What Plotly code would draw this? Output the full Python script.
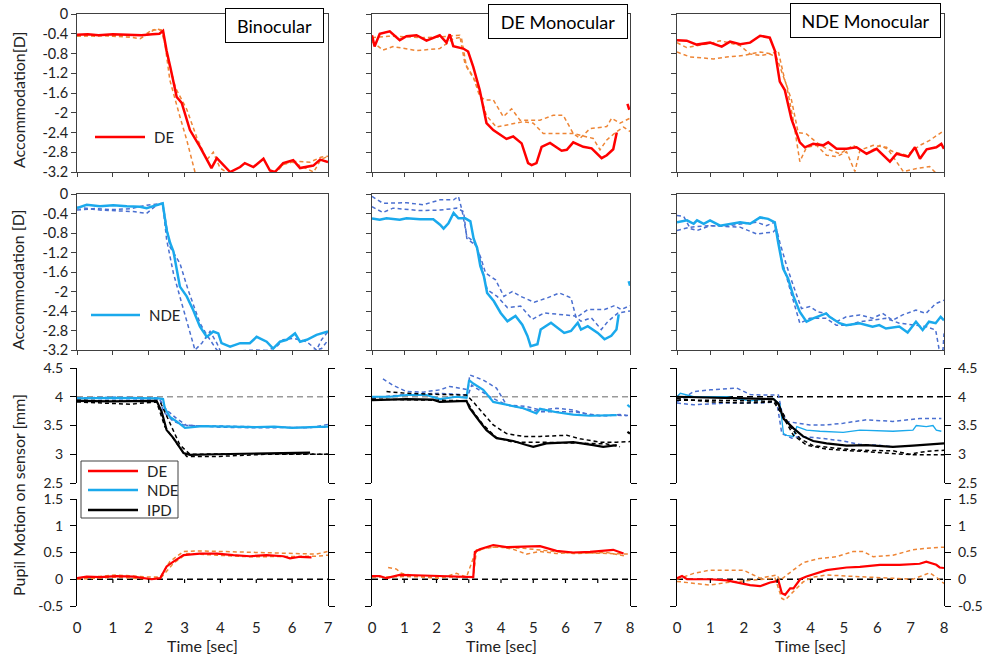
import plotly.graph_objects as go

W, H = 988, 661

# ---------------------------------------------------------------- ticks / labels
TIME_TICKS_BIN = [0, 1, 2, 3, 4, 5, 6, 7]
TIME_TICKS_MONO = [0, 1, 2, 3, 4, 5, 6, 7, 8]
ACC_TICKS = [0, -0.4, -0.8, -1.2, -1.6, -2, -2.4, -2.8, -3.2]
PUPIL_TICKS = [2.5, 3, 3.5, 4, 4.5]
DIFF_TICKS = [-0.5, 0, 0.5, 1, 1.5]
PANEL_TITLES = ["Binocular", "DE Monocular", "NDE Monocular"]
PUPIL_REF = 4.0
DIFF_REF = 0.0

# ---------------------------------------------------------------- accommodation, DE (t [s], D)
ACC_DE_BIN = [(0, -0.42), (0.3, -0.41), (0.6, -0.43), (1.0, -0.41), (1.4, -0.42), (1.8, -0.43), (2.1, -0.41),
              (2.3, -0.4), (2.4, -0.34), (2.5, -0.75), (2.6, -1.07), (2.78, -1.68), (2.92, -1.8), (3.15, -2.35),
              (3.43, -2.69), (3.62, -2.96), (3.75, -3.12), (3.9, -2.92), (4.03, -3.02), (4.27, -3.2), (4.55, -3.1),
              (4.68, -3.02), (4.92, -3.1), (5.2, -2.93), (5.38, -3.17), (5.52, -3.2), (5.75, -3.02), (6.03, -2.96),
              (6.22, -3.12), (6.59, -3.07), (6.78, -2.95), (7.0, -3.0)]
ACC_DE_BIN_R1 = [(0, -0.45), (0.5, -0.42), (1.0, -0.45), (1.5, -0.47), (1.76, -0.5), (2.0, -0.4), (2.2, -0.3),
                 (2.4, -0.33), (2.59, -1.34), (2.87, -2.08), (3.06, -2.55), (3.29, -3.2), (3.5, -3.3), (5.5, -3.25),
                 (5.75, -3.05), (6.0, -3.0), (6.3, -3.1), (6.6, -3.2), (6.8, -2.95), (7.0, -2.88)]
ACC_DE_BIN_R2 = [(0, -0.44), (0.5, -0.45), (1.0, -0.43), (1.5, -0.44), (1.9, -0.42), (2.1, -0.32), (2.35, -0.33),
                 (2.45, -0.6), (2.6, -1.1), (2.75, -1.5), (3.06, -1.93), (3.34, -2.5), (3.62, -2.95), (3.8, -2.8),
                 (3.99, -3.12), (4.27, -3.25), (5.0, -3.3), (5.5, -3.2), (5.75, -3.05), (6.0, -2.98), (6.5, -3.0),
                 (6.8, -2.9), (7.0, -2.88)]

ACC_DE_DEM = [(0, -0.43), (0.08, -0.66), (0.24, -0.4), (0.55, -0.35), (0.86, -0.53), (1.07, -0.45), (1.38, -0.43),
              (1.69, -0.54), (2.1, -0.43), (2.31, -0.58), (2.41, -0.41), (2.52, -0.65), (2.83, -0.7), (2.98, -0.76),
              (3.14, -1.07), (3.34, -1.54), (3.55, -2.21), (3.76, -2.35), (4.17, -2.53), (4.38, -2.48), (4.64, -2.62),
              (4.84, -3.02), (4.95, -3.06), (5.1, -3.02), (5.26, -2.69), (5.52, -2.61), (5.88, -2.77), (6.04, -2.75),
              (6.24, -2.6), (6.55, -2.69), (6.81, -2.72), (7.12, -2.92), (7.28, -2.86), (7.48, -2.74), (7.59, -2.4),
              (None, None), (7.92, -1.82), (7.98, -1.94)]
ACC_DE_DEM_R1 = [(0, -0.48), (0.5, -0.45), (1.0, -0.46), (1.5, -0.48), (2.0, -0.47), (2.5, -0.45), (2.72, -0.43),
                 (2.88, -1.0), (3.14, -1.27), (3.34, -1.67), (3.5, -1.74), (3.76, -1.74), (4.07, -2.08), (4.33, -1.92),
                 (4.59, -2.15), (5.21, -2.15), (5.62, -2.05), (5.93, -2.05), (6.24, -2.42), (6.45, -2.52),
                 (6.76, -2.32), (7.28, -2.28), (7.43, -2.11), (7.69, -2.21), (8.0, -2.11)]
ACC_DE_DEM_R2 = [(0, -0.56), (0.34, -0.73), (0.65, -0.66), (1.38, -0.74), (2.1, -0.7), (2.52, -0.5), (2.77, -0.47),
                 (2.93, -1.07), (3.24, -1.4), (3.55, -2.06), (3.86, -2.29), (4.17, -2.25), (4.69, -2.18), (5.0, -2.21),
                 (5.31, -2.42), (5.72, -2.42), (6.24, -2.42), (6.86, -2.52), (7.07, -2.75), (7.28, -2.55),
                 (7.59, -2.38), (7.8, -2.29), (8.0, -2.38)]

ACC_DE_NDEM = [(0, -0.53), (0.29, -0.54), (0.59, -0.62), (0.99, -0.58), (1.34, -0.66), (1.59, -0.56), (1.89, -0.61),
               (2.19, -0.58), (2.49, -0.44), (2.78, -0.48), (2.93, -0.74), (3.08, -1.37), (3.23, -1.54), (3.43, -2.13),
               (3.68, -2.6), (3.83, -2.7), (4.08, -2.63), (4.38, -2.66), (4.53, -2.6), (4.78, -2.73), (5.08, -2.73),
               (5.38, -2.7), (5.68, -2.83), (5.98, -2.73), (6.38, -2.99), (6.58, -2.83), (6.93, -2.89), (7.13, -2.7),
               (7.28, -2.93), (7.48, -2.74), (7.77, -2.7), (7.92, -2.63), (8.0, -2.73)]
ACC_DE_NDEM_R1 = [(0, -0.58), (0.29, -0.68), (1.09, -0.58), (1.29, -0.54), (1.89, -0.64), (2.19, -0.81), (2.49, -0.84),
                  (2.78, -0.81), (2.98, -0.87), (3.13, -1.17), (3.28, -1.44), (3.48, -2.13), (3.68, -2.99),
                  (3.88, -2.7), (4.18, -2.66), (4.48, -2.86), (4.78, -2.89), (5.08, -2.79), (5.33, -3.19),
                  (5.48, -2.76), (5.88, -2.66), (6.28, -2.7), (6.78, -3.19), (7.18, -3.13), (7.57, -3.09),
                  (7.77, -3.23), (8.0, -3.3)]
ACC_DE_NDEM_R2 = [(0, -0.77), (0.39, -0.87), (0.79, -0.89), (1.09, -0.91), (1.49, -0.87), (1.99, -0.84), (2.49, -0.77),
                  (2.83, -0.81), (3.03, -0.74), (3.23, -1.34), (3.43, -1.74), (3.63, -2.4), (3.88, -2.43),
                  (4.18, -2.6), (4.48, -2.73), (4.88, -2.83), (5.28, -2.66), (5.68, -2.83), (6.08, -2.66),
                  (6.48, -2.79), (6.88, -2.86), (7.28, -2.66), (7.57, -2.56), (7.77, -2.46), (8.0, -2.36)]

# ---------------------------------------------------------------- accommodation, NDE (t [s], D)
ACC_NDE_BIN = [(0, -0.29), (0.27, -0.22), (0.64, -0.25), (1.01, -0.23), (1.39, -0.25), (1.76, -0.26), (1.94, -0.29),
               (2.13, -0.25), (2.39, -0.19), (2.5, -0.74), (2.6, -1.01), (2.69, -1.18), (2.87, -1.9), (3.06, -2.1),
               (3.24, -2.38), (3.43, -2.72), (3.62, -2.93), (3.8, -2.82), (3.94, -2.86), (4.03, -3.06), (4.27, -3.13),
               (4.55, -3.06), (4.82, -3.06), (5.01, -2.93), (5.29, -3.03), (5.47, -3.17), (5.66, -3.03),
               (5.85, -2.99), (6.08, -2.86), (6.22, -3.03), (6.41, -2.99), (6.68, -2.89), (7.0, -2.82)]
ACC_NDE_BIN_R1 = [(0, -0.33), (0.5, -0.3), (1.0, -0.32), (1.5, -0.3), (1.94, -0.23), (2.39, -0.19), (2.5, -0.94),
                  (2.69, -1.63), (2.92, -2.24), (3.1, -2.72), (3.29, -3.2), (3.48, -3.06), (3.71, -2.82),
                  (3.9, -3.06), (4.03, -3.27), (5.0, -3.3), (5.57, -3.13), (5.75, -2.99), (6.03, -2.96),
                  (6.41, -3.03), (6.68, -3.2), (6.82, -2.99), (7.0, -2.82)]
ACC_NDE_BIN_R2 = [(0, -0.27), (0.64, -0.33), (1.57, -0.36), (1.94, -0.4), (2.22, -0.23), (2.39, -0.19), (2.59, -1.08),
                  (2.87, -1.42), (3.1, -1.97), (3.43, -2.65), (3.62, -2.89), (3.9, -3.2), (4.18, -3.23), (5.0, -3.2),
                  (5.75, -3.23), (6.5, -3.23), (6.82, -3.17), (7.0, -3.0)]

ACC_NDE_DEM = [(0, -0.5), (0.24, -0.53), (0.45, -0.5), (0.86, -0.53), (1.07, -0.5), (1.49, -0.52), (1.9, -0.52),
               (2.11, -0.63), (2.22, -0.71), (2.37, -0.6), (2.53, -0.39), (2.68, -0.5), (2.89, -0.5), (3.05, -0.56),
               (3.15, -0.91), (3.26, -1.11), (3.36, -1.48), (3.47, -1.69), (3.57, -2.03), (3.78, -2.2), (3.99, -2.44),
               (4.2, -2.61), (4.45, -2.5), (4.66, -2.68), (4.82, -2.91), (4.92, -3.12), (5.13, -3.08), (5.23, -2.78),
               (5.55, -2.64), (5.96, -2.85), (6.17, -2.81), (6.38, -2.64), (6.48, -2.78), (6.69, -2.71), (7.0, -2.85),
               (7.21, -2.98), (7.42, -2.91), (7.58, -2.78), (7.65, -2.47), (None, None), (7.96, -1.79), (8.0, -1.88)]
ACC_NDE_DEM_R1 = [(0, -0.05), (0.34, -0.19), (1.07, -0.18), (1.59, -0.22), (2.11, -0.12), (2.53, -0.12), (2.68, -0.05),
                  (2.79, -0.33), (2.94, -0.87), (3.15, -0.97), (3.36, -1.28), (3.52, -1.62), (3.83, -1.76),
                  (4.09, -2.1), (4.35, -2.0), (4.61, -2.1), (5.03, -2.22), (5.44, -2.13), (5.81, -2.03),
                  (6.17, -2.13), (6.33, -2.54), (6.69, -2.37), (7.21, -2.37), (7.52, -2.29), (7.73, -2.37),
                  (8.0, -2.29)]
ACC_NDE_DEM_R2 = [(0, -0.26), (0.34, -0.38), (0.65, -0.29), (1.49, -0.34), (2.11, -0.33), (2.63, -0.29), (2.84, -0.36),
                  (2.94, -0.91), (3.26, -1.08), (3.57, -1.96), (3.88, -2.1), (4.2, -2.33), (4.61, -2.3), (4.97, -2.57),
                  (5.34, -2.44), (5.75, -2.47), (6.28, -2.5), (6.48, -2.61), (6.8, -2.54), (7.11, -2.78),
                  (7.32, -2.61), (7.63, -2.44), (8.0, -2.4)]

ACC_NDE_NDEM = [(0, -0.58), (0.3, -0.54), (0.5, -0.61), (0.6, -0.54), (0.8, -0.61), (0.99, -0.54), (1.29, -0.65),
                (1.59, -0.61), (1.89, -0.58), (2.19, -0.61), (2.49, -0.48), (2.73, -0.51), (2.93, -0.58), (3.03, -0.99),
                (3.18, -1.53), (3.33, -1.74), (3.48, -2.08), (3.68, -2.42), (3.88, -2.62), (4.08, -2.55), (4.47, -2.45),
                (4.57, -2.52), (4.87, -2.65), (5.07, -2.69), (5.47, -2.65), (5.86, -2.72), (6.06, -2.69),
                (6.26, -2.76), (6.66, -2.72), (6.91, -2.84), (7.16, -2.62), (7.36, -2.79), (7.55, -2.62),
                (7.75, -2.65), (7.9, -2.52), (8.0, -2.59)]
ACC_NDE_NDEM_R1 = [(0, -0.44), (0.2, -0.46), (0.4, -0.71), (0.6, -0.75), (0.99, -0.65), (1.49, -0.65), (1.99, -0.61),
                   (2.39, -0.58), (2.68, -0.65), (2.93, -0.58), (3.08, -0.99), (3.28, -1.46), (3.48, -1.87),
                   (3.73, -2.35), (3.98, -2.31), (4.22, -2.42), (4.47, -2.45), (4.77, -2.62), (5.07, -2.52),
                   (5.47, -2.48), (5.86, -2.55), (6.16, -2.45), (6.46, -2.59), (6.76, -2.48), (7.16, -2.38),
                   (7.46, -2.45), (7.75, -2.25), (8.0, -2.18)]
ACC_NDE_NDEM_R2 = [(0, -0.75), (0.4, -0.68), (0.99, -0.65), (1.89, -0.68), (2.39, -0.82), (2.88, -0.78), (2.98, -0.71),
                   (3.13, -1.33), (3.38, -1.94), (3.68, -2.65), (3.98, -2.55), (4.47, -2.55), (4.77, -2.69),
                   (5.17, -2.69), (5.47, -2.62), (5.86, -2.59), (6.26, -2.55), (6.66, -2.65), (7.06, -2.69),
                   (7.46, -2.72), (7.75, -2.79), (7.85, -3.17), (7.97, -3.2), (8.0, -2.86)]

# ---------------------------------------------------------------- pupil position on sensor (t [s], mm)
PUP_NDE_BIN = [(0, 3.97), (1.0, 3.98), (2.27, 3.97), (2.4, 3.96), (2.45, 3.8), (2.59, 3.65), (2.78, 3.57),
               (3.01, 3.46), (3.5, 3.49), (4.36, 3.48), (5.0, 3.47), (5.5, 3.48), (6.0, 3.46), (6.5, 3.47), (7.0, 3.48)]
PUP_NDE_BIN_R1 = [(0, 3.98), (1.0, 3.99), (2.27, 3.98), (2.5, 3.77), (2.78, 3.62), (3.06, 3.5), (4.0, 3.49),
                  (5.0, 3.48), (6.0, 3.47), (6.5, 3.46), (7.0, 3.52)]
PUP_NDE_BIN_R2 = [(0, 3.97), (2.32, 3.96), (2.41, 3.74), (2.69, 3.57), (2.97, 3.51), (4.0, 3.47), (5.0, 3.46),
                  (6.0, 3.47), (7.0, 3.47)]
PUP_IPD_BIN = [(0, 3.93), (0.92, 3.92), (2.22, 3.93), (2.36, 3.74), (2.5, 3.42), (2.69, 3.28), (2.97, 3.02),
               (3.15, 2.99), (3.89, 3.0), (5.29, 3.02), (6.5, 3.03)]
PUP_IPD_BIN_R1 = [(0, 3.91), (1.48, 3.87), (2.22, 3.91), (2.45, 3.48), (2.78, 3.19), (3.06, 2.96), (3.89, 2.96),
                  (5.29, 3.0), (7.0, 3.0)]
PUP_IPD_BIN_R2 = [(0, 3.94), (2.32, 3.91), (2.55, 3.6), (2.87, 3.16), (3.15, 3.0), (5.0, 3.01), (7.0, 3.0)]

PUP_NDE_DEM = [(0, 4.0), (0.55, 4.0), (1.07, 4.03), (1.69, 4.03), (2.1, 3.96), (2.62, 4.0), (2.93, 3.98), (3.01, 4.29),
               (3.14, 4.23), (3.45, 4.12), (3.76, 3.91), (4.17, 3.86), (4.69, 3.8), (5.1, 3.71), (5.21, 3.79),
               (5.72, 3.73), (6.24, 3.69), (6.76, 3.67), (7.28, 3.67), (7.59, 3.68), (None, None), (7.92, 3.86),
               (8.0, 3.82)]
PUP_NDE_DEM_R1 = [(0.34, 4.31), (0.65, 4.2), (1.07, 4.09), (1.58, 4.08), (2.1, 4.12), (2.41, 4.18), (2.98, 4.12),
                  (3.03, 4.38), (3.45, 4.29), (3.86, 4.15), (4.17, 3.86), (4.79, 3.83), (5.21, 3.77), (5.72, 3.8),
                  (6.24, 3.77), (6.76, 3.68), (7.28, 3.67), (7.69, 3.69), (8.0, 3.67)]
PUP_NDE_DEM_R2 = [(0, 3.98), (1.07, 4.04), (2.1, 4.06), (2.98, 4.03), (3.09, 4.2), (3.65, 4.0), (4.17, 3.86),
                  (5.21, 3.74), (6.24, 3.74), (7.07, 3.67), (7.59, 3.68), (7.9, 3.67)]
PUP_IPD_DEM = [(0, 3.94), (1.07, 3.96), (1.89, 3.95), (2.1, 3.91), (2.93, 3.93), (3.03, 3.8), (3.34, 3.57),
               (3.55, 3.42), (3.86, 3.28), (4.38, 3.23), (4.79, 3.16), (5.0, 3.13), (5.41, 3.19), (6.24, 3.21),
               (6.86, 3.16), (7.17, 3.13), (7.59, 3.16), (None, None), (7.92, 3.39), (8.0, 3.36)]
PUP_IPD_DEM_R1 = [(0.45, 4.09), (1.07, 4.06), (2.1, 4.04), (2.93, 4.03), (3.14, 3.91), (3.45, 3.71), (3.76, 3.51),
                  (4.17, 3.36), (4.69, 3.31), (5.21, 3.31), (6.04, 3.33), (6.45, 3.27), (7.07, 3.21), (7.59, 3.21),
                  (8.0, 3.22)]
PUP_IPD_DEM_R2 = [(0, 3.96), (2.93, 3.93), (3.14, 3.74), (3.45, 3.51), (3.86, 3.29), (4.38, 3.21), (5.21, 3.21),
                  (6.24, 3.19), (7.28, 3.18), (7.69, 3.13)]

PUP_NDE_NDEM = [(0, 4.0), (0.1, 4.06), (0.5, 4.0), (1.49, 4.0), (2.19, 3.93), (2.89, 3.97), (3.09, 3.86), (3.19, 3.36),
                (3.29, 3.33), (3.49, 3.31), (3.59, 3.48), (3.88, 3.42), (4.28, 3.4), (4.98, 3.38), (5.48, 3.42),
                (6.47, 3.4), (7.07, 3.42), (7.17, 3.5), (7.47, 3.48), (7.67, 3.5), (7.77, 3.42), (7.92, 3.4)]
PUP_NDE_NDEM_R1 = [(0, 3.91), (0.5, 4.09), (1.0, 4.12), (1.79, 4.15), (2.19, 4.04), (2.49, 4.03), (3.04, 4.03),
                   (3.14, 3.74), (3.29, 3.57), (3.59, 3.54), (3.98, 3.51), (4.48, 3.51), (4.98, 3.54), (5.68, 3.6),
                   (6.47, 3.57), (7.27, 3.62), (7.92, 3.62)]
PUP_NDE_NDEM_R2 = [(0, 3.89), (0.5, 3.86), (1.49, 3.89), (2.49, 3.89), (2.99, 3.91), (3.14, 3.36), (3.44, 3.28),
                   (3.69, 3.31), (4.28, 3.28), (4.98, 3.23), (5.48, 3.17), (5.98, 3.16), (6.47, 3.13)]
PUP_IPD_NDEM = [(0, 4.0), (1.0, 3.98), (1.99, 3.97), (2.89, 3.96), (3.04, 3.88), (3.19, 3.62), (3.49, 3.45),
                (3.78, 3.31), (4.08, 3.23), (4.48, 3.19), (5.08, 3.15), (5.68, 3.16), (6.47, 3.13), (7.07, 3.15),
                (7.67, 3.17), (8.0, 3.19)]
PUP_IPD_NDEM_R1 = [(0, 3.97), (1.0, 3.91), (1.99, 3.89), (2.94, 3.91), (3.09, 3.8), (3.39, 3.48), (3.69, 3.27),
                   (4.08, 3.15), (4.68, 3.11), (5.48, 3.07), (6.47, 3.06), (6.97, 3.0), (7.47, 3.05), (8.0, 3.07)]
PUP_IPD_NDEM_R2 = [(0, 3.94), (1.0, 3.94), (2.89, 3.92), (3.09, 3.74), (3.49, 3.33), (3.88, 3.16), (4.48, 3.09),
                   (5.48, 3.05), (6.27, 3.03), (7.07, 2.99), (8.0, 2.99)]

# ---------------------------------------------------------------- DE pupil shift (t [s], mm)
SHIFT_DE_BIN = [(0, 0.02), (0.27, 0.05), (0.64, 0.04), (1.1, 0.06), (1.57, 0.05), (1.94, 0.02), (2.08, 0.0),
                (2.32, 0.02), (2.5, 0.24), (2.69, 0.33), (2.97, 0.45), (3.43, 0.48), (3.9, 0.48), (4.36, 0.45),
                (4.82, 0.43), (5.29, 0.45), (5.75, 0.43), (5.94, 0.39), (6.22, 0.42), (6.54, 0.41)]
SHIFT_DE_BIN_R1 = [(0, 0.02), (1.1, 0.08), (2.04, 0.04), (2.32, 0.04), (2.59, 0.33), (2.97, 0.52), (3.43, 0.53),
                   (3.9, 0.52), (4.82, 0.5), (5.75, 0.48), (6.68, 0.47), (7.0, 0.52)]
SHIFT_DE_BIN_R2 = [(0, 0.0), (1.1, 0.04), (2.04, 0.0), (2.36, 0.04), (2.69, 0.3), (3.06, 0.48), (3.9, 0.45),
                   (4.82, 0.42), (6.68, 0.43), (7.0, 0.45)]

SHIFT_DE_DEM = [(0, 0.06), (0.24, 0.06), (0.45, 0.02), (0.86, 0.08), (1.59, 0.07), (2.1, 0.06), (2.62, 0.06),
                (3.14, 0.04), (3.19, 0.51), (3.34, 0.56), (3.76, 0.64), (4.17, 0.6), (4.69, 0.61), (5.21, 0.62),
                (5.72, 0.53), (6.24, 0.5), (6.76, 0.51), (7.28, 0.53), (7.48, 0.55), (7.8, 0.48)]
SHIFT_DE_DEM_R1 = [(0.5, 0.22), (0.76, 0.19), (0.91, 0.11), (1.58, 0.04), (2.1, 0.02), (2.62, 0.11), (2.93, 0.04),
                   (3.19, 0.48), (3.45, 0.58), (3.96, 0.61), (4.38, 0.56), (4.79, 0.47), (5.21, 0.52), (5.72, 0.48),
                   (6.24, 0.5), (7.28, 0.48), (8.0, 0.47)]
SHIFT_DE_DEM_R2 = [(0, 0.04), (1.07, 0.05), (2.1, 0.04), (3.14, 0.04), (3.24, 0.55), (3.76, 0.6), (4.69, 0.58),
                   (5.41, 0.53), (6.24, 0.48), (7.28, 0.5), (7.9, 0.43)]

SHIFT_DE_NDEM = [(0, 0.02), (0.15, 0.06), (0.3, 0.0), (0.99, 0.0), (1.49, -0.02), (1.79, -0.06), (2.19, -0.11),
                 (2.49, -0.13), (2.79, -0.06), (3.04, -0.03), (3.14, -0.26), (3.24, -0.29), (3.39, -0.17),
                 (3.49, -0.17), (3.69, 0.0), (3.88, 0.05), (4.48, 0.17), (5.08, 0.22), (5.48, 0.23), (6.08, 0.27),
                 (6.67, 0.27), (7.27, 0.29), (7.47, 0.33), (7.77, 0.27), (7.87, 0.22), (8.0, 0.21)]
SHIFT_DE_NDEM_R1 = [(0, 0.0), (0.5, 0.11), (0.99, 0.17), (1.99, 0.17), (2.29, 0.08), (2.49, 0.02), (2.99, 0.08),
                    (3.09, -0.02), (3.29, 0.08), (3.49, 0.17), (3.78, 0.31), (4.28, 0.39), (4.78, 0.42), (5.28, 0.52),
                    (5.58, 0.52), (5.88, 0.42), (6.47, 0.45), (7.07, 0.55), (7.47, 0.58), (8.0, 0.6)]
SHIFT_DE_NDEM_R2 = [(0, -0.04), (0.5, -0.08), (0.99, -0.11), (1.49, -0.06), (1.99, -0.03), (2.49, 0.0), (2.94, 0.02),
                    (3.14, -0.36), (3.24, -0.39), (3.49, -0.23), (3.78, -0.05), (4.08, 0.04), (4.48, 0.08),
                    (5.08, 0.06), (5.88, 0.04), (6.47, 0.02), (7.07, 0.0), (7.57, 0.12), (7.77, 0.04), (8.0, -0.08)]

# ---------------------------------------------------------------- styling
RED = "#FF0000"
ORANGE = "#EE8535"
SKY = "#1AA9EC"
ROYAL = "#4A6FD0"
BLACK = "#000000"
AXIS = "#404040"
TEXT = "#222222"
FONT = "Lato"
DASH = "4px,3px"

COL_PX = [(77, 328), (372, 630), (677, 944)]
ROW_PX = [(14, 172), (194, 350), (368, 483), (499, 606)]


def xdom(c):
    a, b = COL_PX[c]
    return [a / W, b / W]


def ydom(r):
    a, b = ROW_PX[r]
    return [1 - b / H, 1 - a / H]


def ref(n):
    return ("x" if n == 1 else f"x{n}"), ("y" if n == 1 else f"y{n}")


def px(xp, yp):
    """Figure pixel position -> paper coordinates."""
    return xp / W, 1 - yp / H


# (row, col) -> list of (points, colour, width, dash)
PANELS = {
    (0, 0): [(ACC_DE_BIN_R1, ORANGE, 1.5, DASH), (ACC_DE_BIN_R2, ORANGE, 1.5, DASH), (ACC_DE_BIN, RED, 2.5, None)],
    (0, 1): [(ACC_DE_DEM_R1, ORANGE, 1.5, DASH), (ACC_DE_DEM_R2, ORANGE, 1.5, DASH), (ACC_DE_DEM, RED, 2.5, None)],
    (0, 2): [(ACC_DE_NDEM_R1, ORANGE, 1.5, DASH), (ACC_DE_NDEM_R2, ORANGE, 1.5, DASH), (ACC_DE_NDEM, RED, 2.5, None)],
    (1, 0): [(ACC_NDE_BIN_R1, ROYAL, 1.5, DASH), (ACC_NDE_BIN_R2, ROYAL, 1.5, DASH), (ACC_NDE_BIN, SKY, 2.5, None)],
    (1, 1): [(ACC_NDE_DEM_R1, ROYAL, 1.5, DASH), (ACC_NDE_DEM_R2, ROYAL, 1.5, DASH), (ACC_NDE_DEM, SKY, 2.5, None)],
    (1, 2): [(ACC_NDE_NDEM_R1, ROYAL, 1.5, DASH), (ACC_NDE_NDEM_R2, ROYAL, 1.5, DASH),
             (ACC_NDE_NDEM, SKY, 2.5, None)],
    (2, 0): [(PUP_NDE_BIN_R1, ROYAL, 1.5, DASH), (PUP_NDE_BIN_R2, ROYAL, 1.5, DASH), (PUP_NDE_BIN, SKY, 2.2, None),
             (PUP_IPD_BIN_R1, BLACK, 1.5, DASH), (PUP_IPD_BIN_R2, BLACK, 1.5, DASH), (PUP_IPD_BIN, BLACK, 2.2, None)],
    (2, 1): [(PUP_NDE_DEM_R1, ROYAL, 1.5, DASH), (PUP_NDE_DEM_R2, ROYAL, 1.5, DASH), (PUP_NDE_DEM, SKY, 2.2, None),
             (PUP_IPD_DEM_R1, BLACK, 1.5, DASH), (PUP_IPD_DEM_R2, BLACK, 1.5, DASH), (PUP_IPD_DEM, BLACK, 2.2, None)],
    (2, 2): [(PUP_NDE_NDEM_R1, ROYAL, 1.5, DASH), (PUP_NDE_NDEM_R2, ROYAL, 1.5, DASH),
             (PUP_NDE_NDEM, SKY, 1.3, None), (PUP_IPD_NDEM_R1, BLACK, 1.5, DASH),
             (PUP_IPD_NDEM_R2, BLACK, 1.5, DASH), (PUP_IPD_NDEM, BLACK, 2.2, None)],
    (3, 0): [(SHIFT_DE_BIN_R1, ORANGE, 1.5, DASH), (SHIFT_DE_BIN_R2, ORANGE, 1.5, DASH), (SHIFT_DE_BIN, RED, 2.2, None)],
    (3, 1): [(SHIFT_DE_DEM_R1, ORANGE, 1.5, DASH), (SHIFT_DE_DEM_R2, ORANGE, 1.5, DASH), (SHIFT_DE_DEM, RED, 2.2, None)],
    (3, 2): [(SHIFT_DE_NDEM_R1, ORANGE, 1.5, DASH), (SHIFT_DE_NDEM_R2, ORANGE, 1.5, DASH),
             (SHIFT_DE_NDEM, RED, 2.2, None)],
}

fig = go.Figure()
layout = dict(width=W, height=H, margin=dict(l=0, r=0, t=0, b=0, pad=0), paper_bgcolor="white",
              plot_bgcolor="white", font=dict(family=FONT, size=15, color=TEXT), showlegend=False)
shapes, annotations = [], []

for r in range(4):
    for c in range(3):
        n = r * 3 + c + 1
        xr, yr = ref(n)
        xkey = "xaxis" if n == 1 else f"xaxis{n}"
        ykey = "yaxis" if n == 1 else f"yaxis{n}"
        tticks = TIME_TICKS_BIN if c == 0 else TIME_TICKS_MONO
        xrange = [tticks[0], tticks[-1]]

        for pts, col, wd, dash in PANELS[(r, c)]:
            fig.add_trace(go.Scatter(
                x=[p[0] for p in pts], y=[p[1] for p in pts], mode="lines",
                line=dict(color=col, width=wd, dash=dash), xaxis=xr, yaxis=yr,
                hoverinfo="skip", connectgaps=False))

        if r < 2:
            layout[xkey] = dict(domain=xdom(c), range=xrange, anchor=yr, showline=True, mirror=True,
                                linecolor=AXIS, linewidth=1, ticks="outside", ticklen=4, tickcolor=AXIS,
                                tickvals=tticks, showticklabels=False, showgrid=False, zeroline=False,
                                automargin=False)
            layout[ykey] = dict(domain=ydom(r), range=[ACC_TICKS[-1], ACC_TICKS[0]], anchor=xr, showline=True,
                                mirror=True, linecolor=AXIS, linewidth=1, ticks="outside", ticklen=5,
                                tickcolor=AXIS, tickvals=ACC_TICKS, ticktext=[f"{v:g}" for v in ACC_TICKS],
                                tickfont=dict(size=14.5), showticklabels=(c == 0), showgrid=False,
                                zeroline=False, automargin=False)
        else:
            yt = PUPIL_TICKS if r == 2 else DIFF_TICKS
            layout[xkey] = dict(domain=xdom(c), range=xrange, anchor=yr, showline=False, ticks="",
                                tickvals=tticks, ticktext=[str(v) for v in tticks],
                                showticklabels=(r == 3), ticklabelstandoff=11, tickfont=dict(size=15),
                                showgrid=False, zeroline=False, automargin=False)
            layout[ykey] = dict(domain=ydom(r), range=[yt[0], yt[-1]], anchor=xr, showline=True,
                                mirror="ticks", linecolor=BLACK, linewidth=1.2, ticks="outside", ticklen=6,
                                tickcolor=BLACK, tickwidth=1.2, tickvals=yt, ticktext=[f"{v:g}" for v in yt],
                                tickfont=dict(size=14), side=("right" if c == 2 else "left"),
                                showticklabels=(c in (0, 2)), ticklabelstandoff=4, showgrid=False,
                                zeroline=False, automargin=False)
            # reference level (pupil at rest / zero shift)
            level = PUPIL_REF if r == 2 else DIFF_REF
            lcol = "#9A9A9A" if (r == 2 and c < 2) else BLACK
            shapes.append(dict(type="line", xref=f"{xr} domain", yref=yr, x0=0, x1=1, y0=level, y1=level,
                               line=dict(color=lcol, width=1.5, dash="6px,4px"), layer="below"))
            if r == 3:
                for t in tticks[1:-1]:
                    shapes.append(dict(type="line", xref=xr, yref=yr, x0=t, x1=t, y0=0, y1=-0.07,
                                       line=dict(color=BLACK, width=1.2)))

# panel titles in boxes
TITLE_BOX = [(274, 25, 91), (558, 22, 132), (865, 21, 143)]
for (cx, cy, w), txt in zip(TITLE_BOX, PANEL_TITLES):
    x, y = px(cx, cy)
    annotations.append(dict(text=txt, x=x, y=y, xref="paper", yref="paper", xanchor="center", yanchor="middle",
                            showarrow=False, font=dict(size=18, color=BLACK, family=FONT), bgcolor="white",
                            bordercolor=BLACK, borderwidth=1, borderpad=3, width=w, height=27))

# axis titles
for txt, ypx in [("Accommodation[D]", 100), ("Accommodation [D]", 280), ("Pupil Motion on sensor [mm]", 495)]:
    x, y = px(18, ypx)
    annotations.append(dict(text=txt, x=x, y=y, xref="paper", yref="paper", xanchor="center", yanchor="middle",
                            textangle=-90, showarrow=False, font=dict(size=16, color=TEXT)))
for c in range(3):
    x, y = px((COL_PX[c][0] + COL_PX[c][1]) / 2, 645)
    annotations.append(dict(text="Time [sec]", x=x, y=y, xref="paper", yref="paper", xanchor="center",
                            yanchor="middle", showarrow=False, font=dict(size=16, color=TEXT)))


# in-panel keys
def key_entry(x0, x1, ypx, color, label):
    a, y = px(x0, ypx)
    b, _ = px(x1, ypx)
    shapes.append(dict(type="line", xref="paper", yref="paper", x0=a, x1=b, y0=y, y1=y,
                       line=dict(color=color, width=2.5)))
    tx, _ = px(x1 + 7, ypx)
    annotations.append(dict(text=label, x=tx, y=y, xref="paper", yref="paper", xanchor="left", yanchor="middle",
                            showarrow=False, font=dict(size=15, color=TEXT)))


key_entry(95, 145, 137, RED, "DE")
key_entry(91, 140, 315, SKY, "NDE")
bx0, by0 = px(81, 518)
bx1, by1 = px(178, 461)
shapes.append(dict(type="rect", xref="paper", yref="paper", x0=bx0, x1=bx1, y0=by0, y1=by1,
                   line=dict(color=AXIS, width=1), fillcolor="white", layer="above"))
key_entry(88, 138, 471, RED, "DE")
key_entry(88, 138, 490, SKY, "NDE")
key_entry(88, 138, 510, BLACK, "IPD")

layout["shapes"] = shapes
layout["annotations"] = annotations
fig.update_layout(**layout)
fig.write_html("out.html")
